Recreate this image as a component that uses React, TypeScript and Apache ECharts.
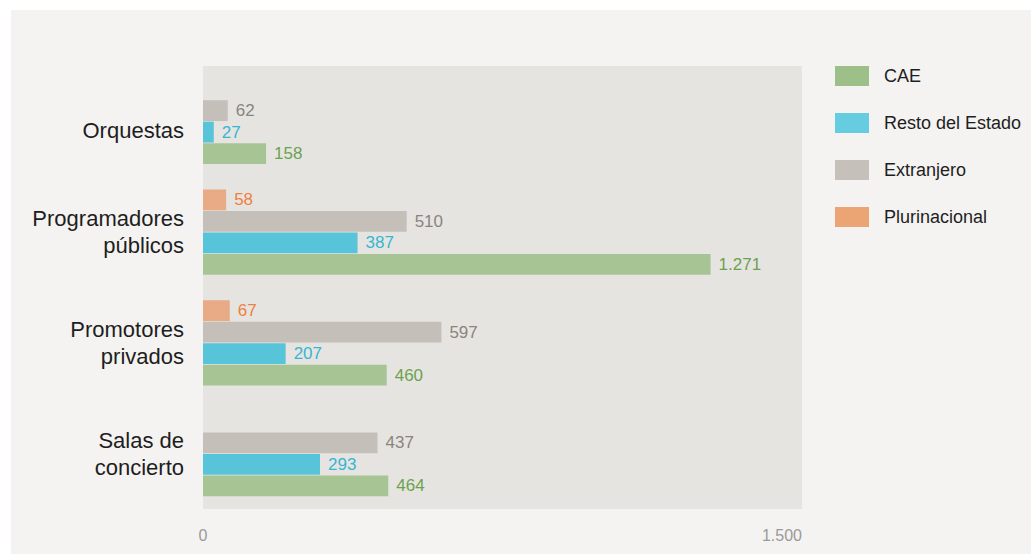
import React, { useEffect, useRef } from "react";
import * as echarts from "echarts";

const categories = ["Orquestas", "Programadores\npúblicos", "Promotores\nprivados", "Salas de\nconcierto"];
const seriesNames = ["CAE", "Resto del Estado", "Extranjero", "Plurinacional"];
const caeValues = [158, 1271, 460, 464];
const restoValues = [27, 387, 207, 293];
const extranjeroValues = [62, 510, 597, 437];
const plurinacionalValues: (number | string)[] = ["-", 58, 67, "-"];
const xTicks = [0, 1500];

const barColors = ["#a7c494", "#58c4d9", "#c4bfb9", "#e8ab85"];
const legendColors = ["#9dc089", "#66cde0", "#c5c0ba", "#eba474"];
const labelColors = ["#6ca24f", "#36b6d2", "#8a847e", "#ee8040"];

const fmt = (v: number) => String(v).replace(/\B(?=(\d{3})+(?!\d))/g, ".");

const FONT = "'Liberation Sans', Arial, Helvetica, sans-serif";

export default function App() {
  const ref = useRef<HTMLDivElement>(null);
  useEffect(() => {
    if (!ref.current) return;
    const chart = echarts.init(ref.current, undefined, { renderer: "svg" });
    const allValues = [caeValues, restoValues, extranjeroValues, plurinacionalValues];
    // bars inside a band are stacked top-to-bottom in series order, so reverse
    const order = [3, 2, 1, 0];
    chart.setOption({
      animation: false,
      backgroundColor: "#f4f3f1",
      textStyle: { fontFamily: FONT },
      grid: {
        left: 192,
        top: 56,
        right: 229,
        bottom: 45,
        show: true,
        backgroundColor: "#e6e4e1",
        borderWidth: 0,
        containLabel: false,
      },
      legend: {
        orient: "vertical",
        left: 819,
        top: 51,
        icon: "rect",
        itemWidth: 34,
        itemHeight: 20,
        itemGap: 27,
        selectedMode: false,
        textStyle: { fontSize: 18, color: "#1e1e1e", fontFamily: FONT, padding: [0, 0, 0, 10] },
        data: seriesNames.map((n, i) => ({ name: n, itemStyle: { color: legendColors[i] } })),
      },
      xAxis: {
        type: "value",
        min: xTicks[0],
        max: xTicks[1],
        interval: xTicks[1] - xTicks[0],
        axisLine: { show: false },
        axisTick: { show: false },
        splitLine: { show: false },
        axisLabel: {
          fontSize: 16,
          color: "#9a9a9a",
          margin: 18,
          fontFamily: FONT,
          formatter: (v: number) => fmt(v),
          alignMaxLabel: "right",
          alignMinLabel: "center",
        },
      },
      yAxis: {
        type: "category",
        inverse: true,
        data: categories,
        axisLine: { show: false },
        axisTick: { show: false },
        splitLine: { show: false },
        axisLabel: {
          fontSize: 22,
          lineHeight: 27,
          color: "#1e1e1e",
          margin: 19,
          align: "right",
          fontFamily: FONT,
          formatter: (v: string, idx: number) => (idx === 0 ? `{o|${v}}` : v),
          rich: {
            o: {
              fontSize: 22,
              lineHeight: 27,
              color: "#1e1e1e",
              fontFamily: FONT,
              padding: [18, 0, 0, 0],
            },
          },
        },
      },
      series: order.map((i) => ({
        name: seriesNames[i],
        type: "bar",
        data: allValues[i],
        barGap: "3%",
        barCategoryGap: "23%",
        itemStyle: { color: barColors[i] },
        label: {
          show: true,
          position: "right",
          distance: 8,
          fontSize: 17,
          color: labelColors[i],
          fontFamily: FONT,
          formatter: (p: any) => fmt(p.value),
        },
      })),
    });
    return () => chart.dispose();
  }, []);
  return (
    <div
      ref={ref}
      style={{ position: "fixed", left: 11, top: 10, width: 1020, height: 544 }}
    />
  );
}
